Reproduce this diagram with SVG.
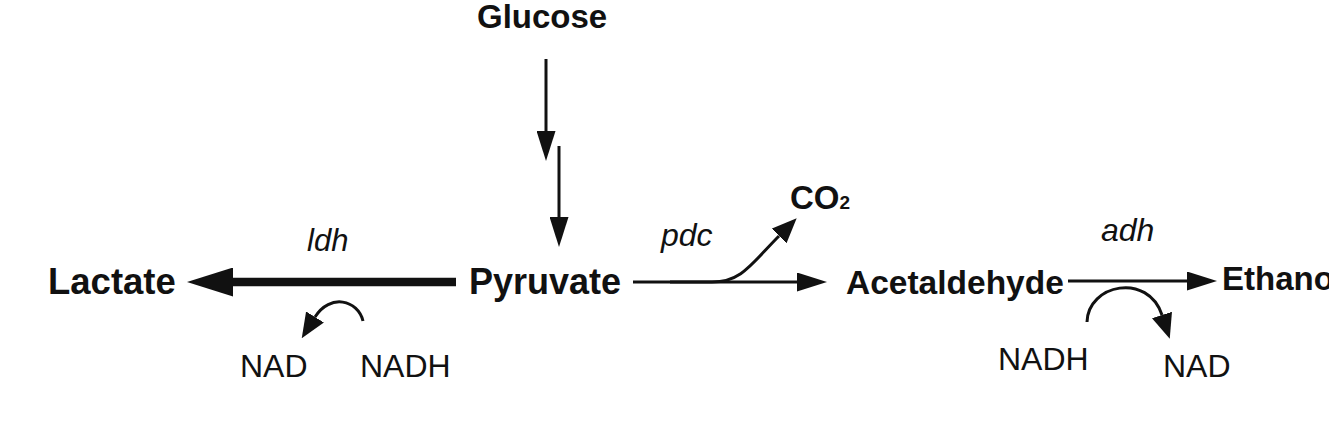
<svg xmlns="http://www.w3.org/2000/svg" width="1329" height="446" viewBox="0 0 1329 446">
<style>
.b{font-family:"Liberation Sans",Arial,sans-serif;font-weight:bold;fill:#111}
.n{font-family:"Liberation Sans",Arial,sans-serif;fill:#111}
.i{font-family:"Liberation Sans",Arial,sans-serif;font-style:italic;fill:#111}
.ln{fill:none;stroke:#111;stroke-width:3}
</style>
<defs>
<marker id="ah" markerUnits="userSpaceOnUse" viewBox="0 0 30 19" markerWidth="30" markerHeight="19" refX="0" refY="9.5" orient="auto"><path d="M0,0 L30,9.5 L0,19 z" fill="#111"/></marker>
<marker id="ahBig" markerUnits="userSpaceOnUse" viewBox="0 0 46 29" markerWidth="46" markerHeight="29" refX="0" refY="14.5" orient="auto"><path d="M0,0 L46,14.5 L0,29 z" fill="#111"/></marker>
<marker id="ahc" markerUnits="userSpaceOnUse" viewBox="0 0 25 21" markerWidth="25" markerHeight="21" refX="0" refY="10.5" orient="auto"><path d="M0,0 L25,10.5 L0,21 z" fill="#111"/></marker>
</defs>
<rect width="1329" height="446" fill="#fff"/>
<g id="connectors">
<line class="ln" x1="546" y1="59" x2="546" y2="131" stroke-width="3.5" marker-end="url(#ah)"/>
<line class="ln" x1="559" y1="146" x2="559" y2="217" stroke-width="3.5" marker-end="url(#ah)"/>
<line class="ln" x1="456" y1="282" x2="233" y2="282" style="stroke-width:8.5" marker-end="url(#ahBig)"/>
<path class="ln" d="M363,321 C358,300 330,293 315,317" marker-end="url(#ahc)"/>
<line class="ln" x1="633" y1="282" x2="797" y2="282" marker-end="url(#ah)"/>
<path class="ln" d="M670,282 L712,282 C742,282 752,263 779,236" marker-end="url(#ahc)"/>
<line class="ln" x1="1068" y1="281" x2="1187" y2="281" marker-end="url(#ah)"/>
<path class="ln" d="M1087,322 C1088,284 1148,272 1162,315" marker-end="url(#ahc)"/>
</g>
<g id="glucose"><text class="b" x="477" y="28" font-size="33">Glucose</text></g>
<g id="pyruvate"><text class="b" x="469" y="294" font-size="36">Pyruvate</text></g>
<g id="lactate"><text class="b" x="48" y="294" font-size="36.5">Lactate</text></g>
<g id="acetaldehyde"><text class="b" x="846" y="294" font-size="33.5">Acetaldehyde</text></g>
<g id="ethanol"><text class="b" x="1222" y="290" font-size="33">Ethanol</text></g>
<g id="co2"><text class="b" x="790" y="208.5" font-size="33">CO<tspan font-size="19">2</tspan></text></g>
<g id="ldh"><text class="i" x="307" y="251" font-size="31">ldh</text></g>
<g id="pdc"><text class="i" x="661" y="246" font-size="32">pdc</text></g>
<g id="adh"><text class="i" x="1101" y="241" font-size="32">adh</text></g>
<g id="nad-left"><text class="n" x="240" y="377" font-size="32">NAD</text></g>
<g id="nadh-left"><text class="n" x="360" y="377" font-size="32">NADH</text></g>
<g id="nadh-right"><text class="n" x="998" y="370" font-size="32">NADH</text></g>
<g id="nad-right"><text class="n" x="1163" y="377" font-size="32">NAD</text></g>
</svg>
